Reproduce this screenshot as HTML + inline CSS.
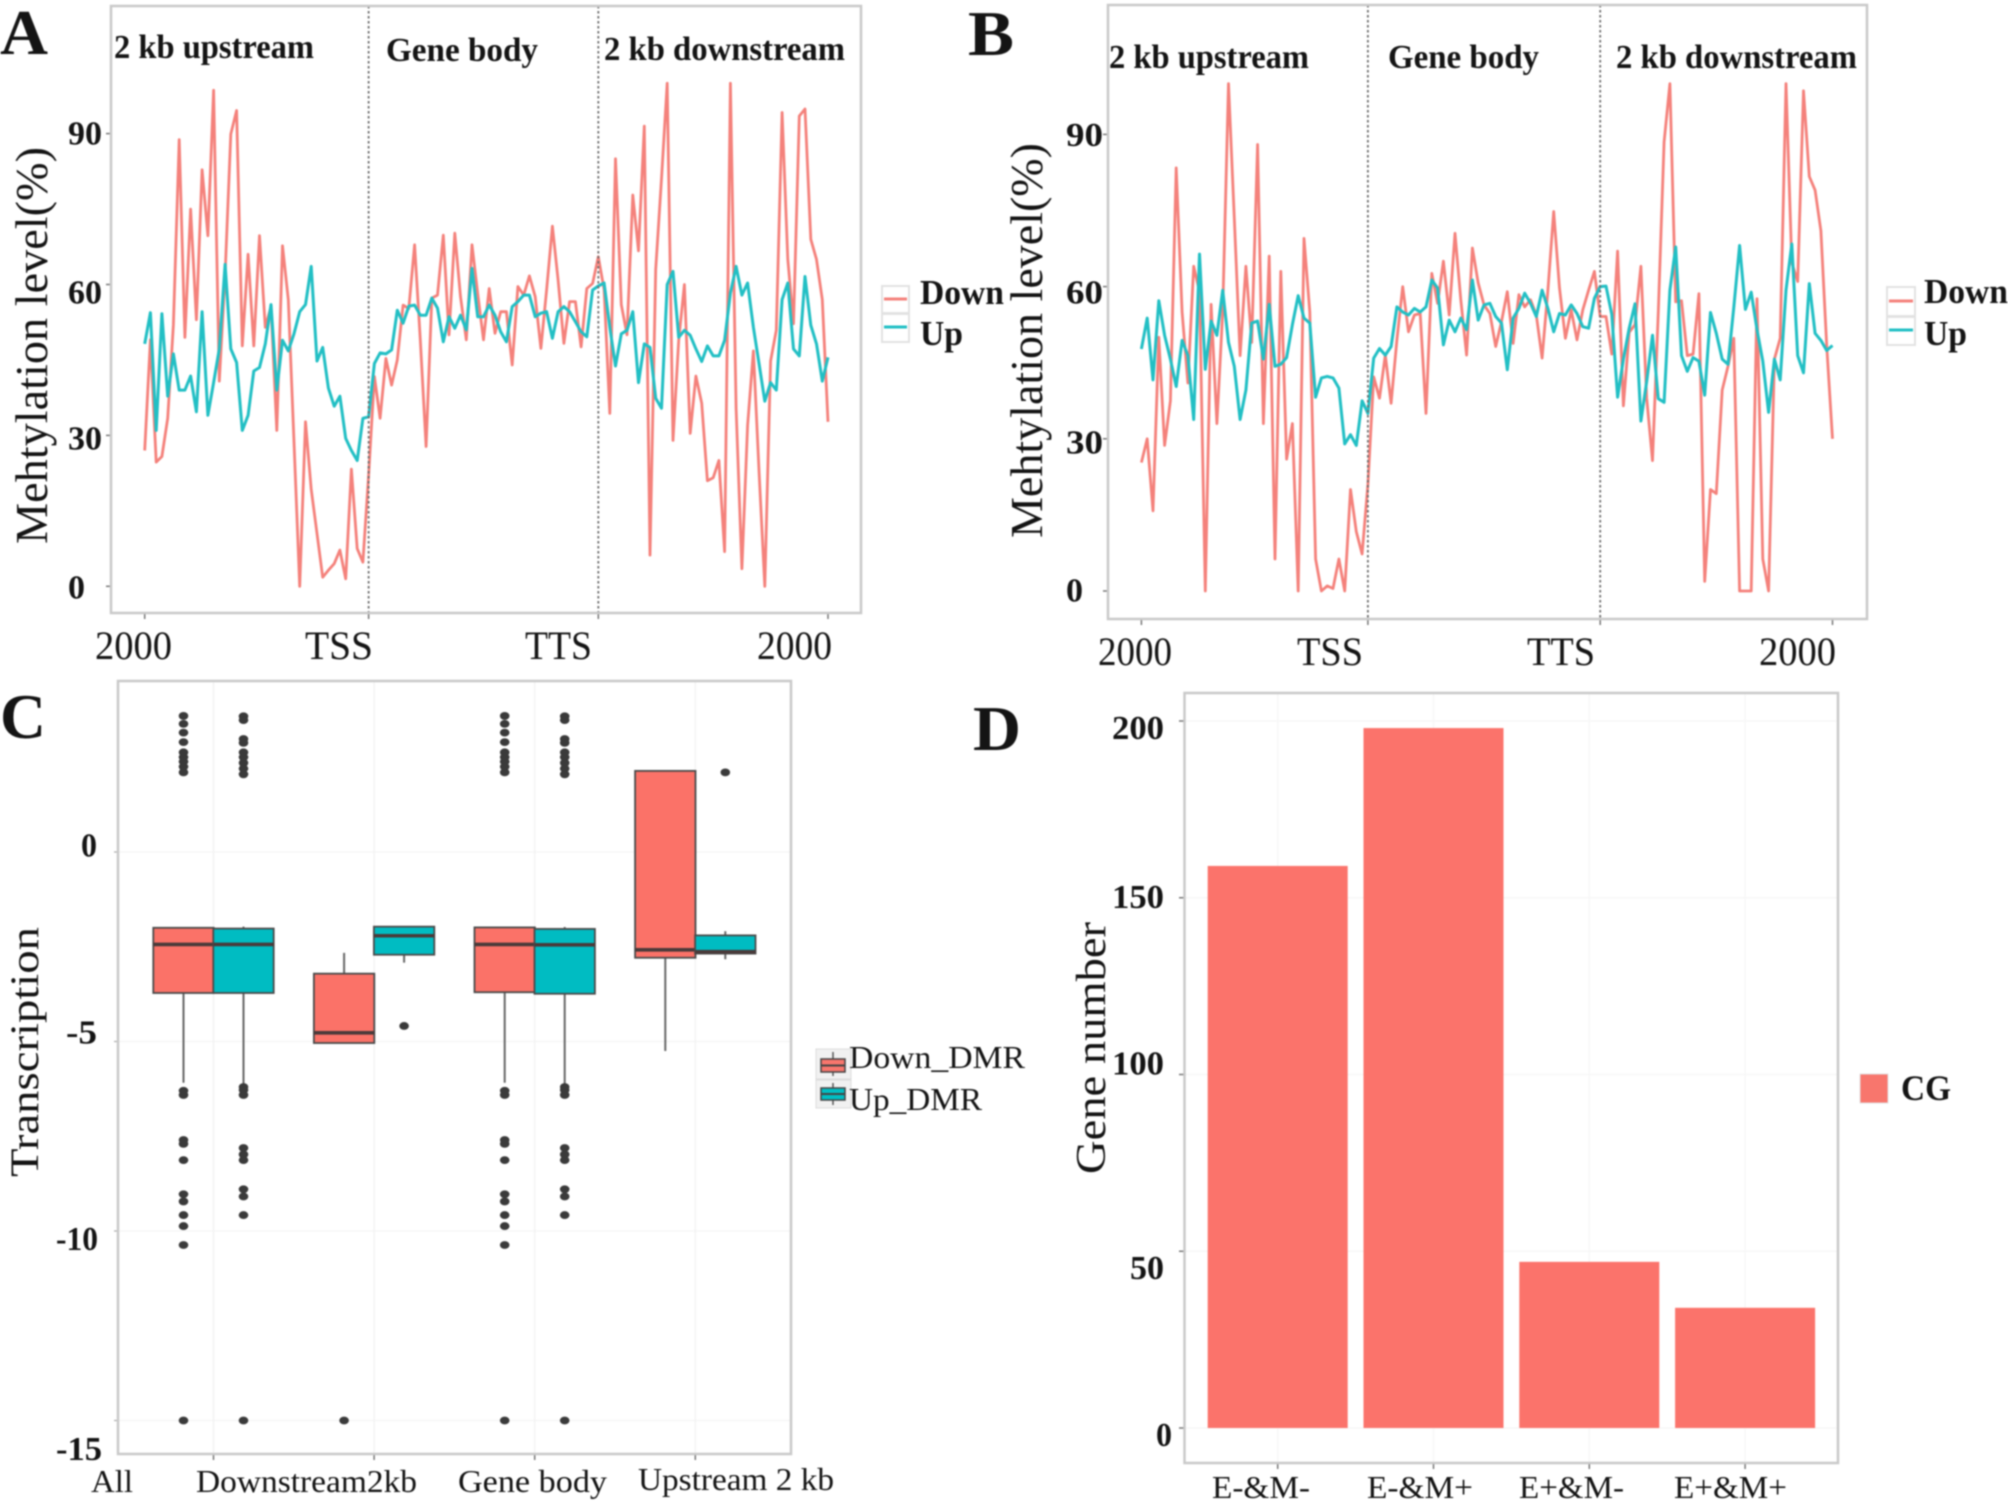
<!DOCTYPE html>
<html lang="en">
<head>
<meta charset="utf-8">
<title>Methylation and transcription panels</title>
<style>
html,body{margin:0;padding:0;background:#fff;}
svg{display:block;filter:blur(0.7px);}
text{font-family:"Liberation Serif",serif;fill:#141414;}
.b{font-weight:700;}
.panel{fill:none;stroke:#c9c9c9;stroke-width:2.5;}
</style>
</head>
<body>
<svg id="chart" xmlns="http://www.w3.org/2000/svg" width="2008" height="1502" viewBox="0 0 2008 1502">
  <rect x="0" y="0" width="2008" height="1502" fill="#fff"/>

  <g id="grid-layer"></g>
  <g id="marks-layer"></g>

  <rect class="panel" x="111" y="6" width="750" height="607"/>
  <rect class="panel" x="1108" y="5" width="759" height="614"/>
  <rect class="panel" x="118" y="681" width="673" height="773"/>
  <rect class="panel" x="1184.5" y="693" width="653.5" height="770"/>

  <text class="b" x="0" y="54" font-size="64" textLength="48" lengthAdjust="spacingAndGlyphs">A</text>
  <text class="b" x="968" y="55" font-size="64" textLength="46" lengthAdjust="spacingAndGlyphs">B</text>
  <text class="b" x="0" y="738" font-size="64" textLength="46" lengthAdjust="spacingAndGlyphs">C</text>
  <text class="b" x="973" y="750" font-size="64" textLength="48" lengthAdjust="spacingAndGlyphs">D</text>

  <!-- Panel A text -->
  <text class="b" x="114" y="58" font-size="34" textLength="200" lengthAdjust="spacingAndGlyphs">2 kb upstream</text>
  <text class="b" x="386" y="61" font-size="34" textLength="152" lengthAdjust="spacingAndGlyphs">Gene body</text>
  <text class="b" x="604" y="60" font-size="34" textLength="241" lengthAdjust="spacingAndGlyphs">2 kb downstream</text>
  <text transform="translate(47,544) rotate(-90)" font-size="46" fill="#222" textLength="397" lengthAdjust="spacingAndGlyphs">Mehtylation level(%)</text>
  <text class="b" x="68" y="144.5" font-size="34" textLength="34" lengthAdjust="spacingAndGlyphs">90</text>
  <text class="b" x="68" y="303.5" font-size="34" textLength="34" lengthAdjust="spacingAndGlyphs">60</text>
  <text class="b" x="68" y="449.5" font-size="34" textLength="34" lengthAdjust="spacingAndGlyphs">30</text>
  <text class="b" x="68" y="598.5" font-size="34" textLength="17" lengthAdjust="spacingAndGlyphs">0</text>
  <text x="95" y="659" font-size="40" textLength="77" lengthAdjust="spacingAndGlyphs">2000</text>
  <text x="305" y="659" font-size="40" textLength="68" lengthAdjust="spacingAndGlyphs">TSS</text>
  <text x="525" y="659" font-size="40" textLength="67" lengthAdjust="spacingAndGlyphs">TTS</text>
  <text x="757" y="659" font-size="40" textLength="75" lengthAdjust="spacingAndGlyphs">2000</text>
  <g>
    <rect x="882" y="286" width="27" height="27" fill="#fff" stroke="#e2e2e2" stroke-width="2"/>
    <line x1="884" x2="907" y1="299" y2="299" stroke="#f4817b" stroke-width="3"/>
    <rect x="882" y="314" width="27" height="28" fill="#fff" stroke="#e2e2e2" stroke-width="2"/>
    <line x1="884" x2="907" y1="327" y2="327" stroke="#22bfc4" stroke-width="3"/>
    <text class="b" x="920" y="304" font-size="35" textLength="84" lengthAdjust="spacingAndGlyphs">Down</text>
    <text class="b" x="920" y="345" font-size="35" textLength="43" lengthAdjust="spacingAndGlyphs">Up</text>
  </g>

  <!-- Panel B text -->
  <text class="b" x="1109" y="68" font-size="34" textLength="200" lengthAdjust="spacingAndGlyphs">2 kb upstream</text>
  <text class="b" x="1388" y="68" font-size="34" textLength="151" lengthAdjust="spacingAndGlyphs">Gene body</text>
  <text class="b" x="1616" y="68" font-size="34" textLength="241" lengthAdjust="spacingAndGlyphs">2 kb downstream</text>
  <text transform="translate(1042,538) rotate(-90)" font-size="46" fill="#222" textLength="395" lengthAdjust="spacingAndGlyphs">Mehtylation level(%)</text>
  <text class="b" x="1066" y="146" font-size="34" textLength="37" lengthAdjust="spacingAndGlyphs">90</text>
  <text class="b" x="1066" y="303.5" font-size="34" textLength="37" lengthAdjust="spacingAndGlyphs">60</text>
  <text class="b" x="1066" y="453.5" font-size="34" textLength="37" lengthAdjust="spacingAndGlyphs">30</text>
  <text class="b" x="1066" y="601.5" font-size="34" textLength="17" lengthAdjust="spacingAndGlyphs">0</text>
  <text x="1098" y="665" font-size="40" textLength="74" lengthAdjust="spacingAndGlyphs">2000</text>
  <text x="1297" y="665" font-size="40" textLength="66" lengthAdjust="spacingAndGlyphs">TSS</text>
  <text x="1527" y="665" font-size="40" textLength="68" lengthAdjust="spacingAndGlyphs">TTS</text>
  <text x="1759" y="665" font-size="40" textLength="77" lengthAdjust="spacingAndGlyphs">2000</text>
  <g>
    <rect x="1887" y="287" width="28" height="29" fill="#fff" stroke="#e2e2e2" stroke-width="2"/>
    <line x1="1889" x2="1913" y1="301" y2="301" stroke="#f4817b" stroke-width="3"/>
    <rect x="1887" y="317" width="28" height="28" fill="#fff" stroke="#e2e2e2" stroke-width="2"/>
    <line x1="1889" x2="1913" y1="330" y2="330" stroke="#22bfc4" stroke-width="3"/>
    <text class="b" x="1924" y="303" font-size="35" textLength="84" lengthAdjust="spacingAndGlyphs">Down</text>
    <text class="b" x="1924" y="345" font-size="35" textLength="43" lengthAdjust="spacingAndGlyphs">Up</text>
  </g>

  <!-- Panel C text -->
  <text transform="translate(38,1177) rotate(-90)" font-size="40" fill="#222" textLength="250" lengthAdjust="spacingAndGlyphs">Transcription</text>
  <text class="b" x="81" y="856.5" font-size="34" textLength="16" lengthAdjust="spacingAndGlyphs">0</text>
  <text class="b" x="66" y="1043.5" font-size="34" textLength="31" lengthAdjust="spacingAndGlyphs">-5</text>
  <text class="b" x="56" y="1250" font-size="34" textLength="42" lengthAdjust="spacingAndGlyphs">-10</text>
  <text class="b" x="56" y="1460" font-size="34" textLength="46" lengthAdjust="spacingAndGlyphs">-15</text>
  <text x="91" y="1492" font-size="32" textLength="42" lengthAdjust="spacingAndGlyphs">All</text>
  <text x="196" y="1492" font-size="32" textLength="221" lengthAdjust="spacingAndGlyphs">Downstream2kb</text>
  <text x="458" y="1492" font-size="32" textLength="149" lengthAdjust="spacingAndGlyphs">Gene body</text>
  <text x="638" y="1490" font-size="32" textLength="196" lengthAdjust="spacingAndGlyphs">Upstream 2 kb</text>
  <g>
    <rect x="816" y="1049" width="35" height="30" fill="#f1f1f1" stroke="#dcdcdc"/>
    <line x1="833" x2="833" y1="1052" y2="1076" stroke="#555" stroke-width="1.5"/>
    <rect x="821" y="1059" width="24" height="13" fill="#f8766d" stroke="#444" stroke-width="1.5"/>
    <line x1="821" x2="845" y1="1065.5" y2="1065.5" stroke="#444" stroke-width="2"/>
    <rect x="816" y="1080" width="35" height="28" fill="#f1f1f1" stroke="#dcdcdc"/>
    <line x1="833" x2="833" y1="1083" y2="1105" stroke="#555" stroke-width="1.5"/>
    <rect x="821" y="1088" width="24" height="12" fill="#00bfc4" stroke="#444" stroke-width="1.5"/>
    <line x1="821" x2="845" y1="1094" y2="1094" stroke="#444" stroke-width="2"/>
    <text x="849" y="1068" font-size="32" fill="#222" textLength="176" lengthAdjust="spacingAndGlyphs">Down_DMR</text>
    <text x="849" y="1110" font-size="32" fill="#222" textLength="133" lengthAdjust="spacingAndGlyphs">Up_DMR</text>
  </g>

  <!-- Panel D text -->
  <text transform="translate(1105,1174) rotate(-90)" font-size="42" fill="#222" textLength="252" lengthAdjust="spacingAndGlyphs">Gene number</text>
  <text class="b" x="1112" y="739" font-size="34" textLength="52" lengthAdjust="spacingAndGlyphs">200</text>
  <text class="b" x="1112" y="908" font-size="34" textLength="52" lengthAdjust="spacingAndGlyphs">150</text>
  <text class="b" x="1112" y="1074.5" font-size="34" textLength="52" lengthAdjust="spacingAndGlyphs">100</text>
  <text class="b" x="1130" y="1279" font-size="34" textLength="34" lengthAdjust="spacingAndGlyphs">50</text>
  <text class="b" x="1156" y="1446" font-size="34" textLength="16" lengthAdjust="spacingAndGlyphs">0</text>
  <text x="1212" y="1498" font-size="32" textLength="98" lengthAdjust="spacingAndGlyphs">E-&amp;M-</text>
  <text x="1367" y="1498" font-size="32" textLength="106" lengthAdjust="spacingAndGlyphs">E-&amp;M+</text>
  <text x="1519" y="1498" font-size="32" textLength="105" lengthAdjust="spacingAndGlyphs">E+&amp;M-</text>
  <text x="1674" y="1498" font-size="32" textLength="113" lengthAdjust="spacingAndGlyphs">E+&amp;M+</text>
  <g>
    <rect x="1860" y="1074" width="28" height="29" fill="#f8766d" stroke="#e2e2e2"/>
    <text class="b" x="1901" y="1100" font-size="36" textLength="50" lengthAdjust="spacingAndGlyphs">CG</text>
  </g>
</svg>

<script>
// Panel A: methylation level (%) per bin
const downA = [27,49,24.7,25.8,33.4,52,88.8,49.5,75,53,
  82.8,69.7,98.6,40.8,62,89.9,94.6,47.8,66,47.8,
  69.7,51.5,55.6,31,67.7,57,28.7,0,32.7,19.3,
  10.5,1.8,3.2,4.5,7.2,1.5,23.3,7.5,4.8,22,
  41.7,33.4,45.3,40,45,55.9,55.2,67.9,49,27.8,
  57.3,57.9,69.8,50,70.2,57.6,49,67.9,58.2,49,
  59.2,50.3,54.6,54.6,44,59.6,57.9,61.7,57.6,47.3,
  58.9,71.6,60.9,48.3,56.6,56.6,47.6,59.2,60.2,65.5,
  59,34.4,85,56,50,77.8,66.7,91.5,6.2,63,
  81,100,29,48.9,60,30.4,41.8,36.4,21,21.6,
  25,6.9,100,35.4,3.5,32,46.8,22.6,0,44.8,
  50.9,94.2,65,52.2,93.5,94.9,69,65,57,32.7];
const upA = [48.2,54.4,31,54.2,37.8,46.2,39,39,41.8,34.7,
  54.6,34,40.5,47.2,64,47.2,44.5,31,34,42.8,
  43.5,48.2,56,39,48.9,46.8,50.2,54.6,56,63.6,
  44.8,47.5,39.4,35.8,37.8,29.4,27,25,33.4,33.7,
  44.3,46.4,46.2,47,54.9,52.3,55.7,55.9,53.9,53.9,
  57.3,55.3,48.6,53.6,51.3,53.9,51,63.2,53.6,53.6,
  55.9,53.9,50.6,48.6,55.6,56.6,57.9,57.9,53.6,54.3,
  54.6,49.3,54.6,55.6,54.6,52.6,50.6,49.6,58.9,59.7,
  60.3,51.5,43.8,50.2,50.9,54.6,40.5,48.2,47.5,37.4,
  35.4,60,62.6,49.5,50.9,49.9,47.2,44.7,47.8,45.8,
  45.8,48.9,58.3,63.6,57.9,60.3,51.5,44.2,36.8,40.5,
  39,57,60.3,47.2,45.8,61.6,51.9,48.2,40.8,45.5];

// Panel B: methylation level (%) per bin
const downB = [25.3,30,15.8,50,28.7,37.5,83.4,55,41,64,
  59,0,56.5,33,55,100,73.5,46.4,64,49,
  88,33,66,6.3,63,26,33,0,69.5,55,
  6.3,0,1,0.5,6.3,0,20,11.7,7.3,21,
  42.2,38,46.5,37,49.5,60,51.1,54.4,54.7,35,
  62.6,56.7,65,54.4,70.5,57.4,46.5,67.6,60.7,56.4,
  54.7,48.2,53.1,59,48.8,58.4,56,57.4,54.4,45.9,
  59.3,74.8,59.7,49.8,55.4,49.5,55.4,59.3,63,54.1,
  54.1,46.7,67,36.5,51,52.5,64,38,25.7,55,
  88.5,100,57,57.2,46.4,46.7,58.6,1.9,20,19.2,
  39.6,44.3,49.8,0,0,0,57.6,6.3,0,45.7,
  49.8,100,64.7,61,98.6,81.7,79,71,48.4,30];
const upB = [47.7,53.8,41.6,57.2,50.4,45.7,40.3,49.4,46.4,33.8,
  66.4,43.7,53.2,50.4,59.3,49,44.3,33.8,39.6,52.8,
  53.2,45.7,56.5,44.3,44.7,46,52.5,58.2,53.8,52.8,
  38.2,42,42.3,42,40,29,30.8,28.7,37.5,35,
  45.9,47.8,46.5,48.2,56,55,54.4,55.7,55,56,
  61.3,59.7,48.5,53.4,51.1,53.8,51.5,61.3,53.4,56.4,
  56.7,54.1,52.8,43.6,53.8,55.7,58.7,56.7,54.1,59.3,
  55.7,51.1,54.7,54.4,56.4,54.7,52.1,51.8,57.7,60,
  60.1,54.5,38.2,45.7,51.8,56.6,33.5,41.3,50.4,37.9,
  37.2,59.3,67.8,46.4,43.3,46,45.3,38.6,54.9,50.8,
  45.7,44.7,55.9,68.1,55.5,58.9,51.5,45.3,35.2,45.7,
  41.6,59.3,68.4,46.4,43,60.6,50.8,49.4,47.4,48.4];

const binTicks = [0,39,79,119];
const methylationTicks = [0,30,60,90];

// Panel C: box statistics per category
const boxCategories = ['All','Downstream2kb','Gene body','Upstream 2 kb'];
const downQ1 = [-3.72,-5.04,-3.7,-2.79];
const downMedian = [-2.44,-4.77,-2.44,-2.58];
const downQ3 = [-2,-3.21,-1.99,2.14];
const downWhiskerLow = [-6.09,-5.04,-6.09,-5.25];
const downWhiskerHigh = [-2,-2.66,-1.99,2.14];
const upQ1 = [-3.72,-2.71,-3.74,-2.68];
const upMedian = [-2.44,-2.21,-2.45,-2.63];
const upQ3 = [-2.02,-1.97,-2.03,-2.2];
const upWhiskerLow = [-6.28,-2.92,-6.28,-2.83];
const upWhiskerHigh = [-1.97,-1.97,-1.98,-2.09];
const downOutliersAll = [3.59,3.38,3.15,2.9,2.63,2.5,2.38,2.25,2.1,-6.3,-6.41,-7.6,-7.7,-8.13,-9.03,-9.22,-9.58,-9.87,-10.37,-15];
const upOutliersAll = [3.58,3.48,2.98,2.88,2.63,2.5,2.35,2.2,2.05,-6.2,-6.28,-6.41,-7.81,-7.98,-8.13,-8.9,-9.09,-9.58,-15];
const downOutliersDownstream = [-15];
const upOutliersDownstream = [-4.59];
const downOutliersGene = [3.59,3.38,3.15,2.9,2.63,2.5,2.38,2.25,2.1,-6.3,-6.41,-7.6,-7.7,-8.13,-9.03,-9.22,-9.58,-9.87,-10.37,-15];
const upOutliersGene = [3.58,3.48,2.98,2.88,2.63,2.5,2.35,2.2,2.05,-6.2,-6.28,-6.41,-7.81,-7.98,-8.13,-8.9,-9.09,-9.58,-15];
const downOutliersUpstream = [];
const upOutliersUpstream = [2.1];
const transcriptionTicks = [0,-5,-10,-15];

// Panel D: gene counts
const barCategories = ['E-&M-','E-&M+','E+&M-','E+&M+'];
const barValues = [159,198,47,34];
const geneTicks = [0,50,100,150,200];

const NS = 'http://www.w3.org/2000/svg';
const gridLayer = document.getElementById('grid-layer');
const marksLayer = document.getElementById('marks-layer');

function make(parent, tag, attrs) {
  const el = document.createElementNS(NS, tag);
  for (const k in attrs) { el.setAttribute(k, attrs[k]); }
  parent.appendChild(el);
  return el;
}
function linear(d0, d1, r0, r1) {
  return function (v) { return r0 + (v - d0) * (r1 - r0) / (d1 - d0); };
}

const redLine = '#f4817b';
const tealLine = '#22bfc4';

function drawLinePanel(key, xScale, yScale, down, up, box) {
  // axis ticks
  methylationTicks.forEach(function (t) {
    const tick = make(marksLayer, 'line', {x1: box.left - 5, x2: box.left, y1: yScale(t), y2: yScale(t), stroke: '#777', 'stroke-width': 1.5});
    
    
  });
  binTicks.forEach(function (t) {
    const tick = make(marksLayer, 'line', {x1: xScale(t), x2: xScale(t), y1: box.bottom, y2: box.bottom + 6, stroke: '#777', 'stroke-width': 1.5});
    
    
  });
  // series
  const downLine = make(marksLayer, 'polyline', {
    points: down.map(function (v, i) { return xScale(i).toFixed(1) + ',' + yScale(v).toFixed(1); }).join(' '),
    fill: 'none', stroke: redLine, 'stroke-width': 2.8, 'stroke-linejoin': 'round'
  });
  
  
  const upLine = make(marksLayer, 'polyline', {
    points: up.map(function (v, i) { return xScale(i).toFixed(1) + ',' + yScale(v).toFixed(1); }).join(' '),
    fill: 'none', stroke: tealLine, 'stroke-width': 3, 'stroke-linejoin': 'round'
  });
  
  
  // region separators
  [binTicks[1], binTicks[2]].forEach(function (t) {
    const sep = make(marksLayer, 'line', {x1: xScale(t), x2: xScale(t), y1: box.top, y2: box.bottom, stroke: '#6f6f6f', 'stroke-width': 1.8, 'stroke-dasharray': '2.5 2.5'});
    
    
  });
}

drawLinePanel('a', linear(0, 119, 144.7, 828), linear(0, 90, 586.3, 133.6), downA, upA, {left: 111, top: 6, bottom: 613});
drawLinePanel('b', linear(0, 119, 1141.4, 1832.5), linear(0, 90, 591, 134.4), downB, upB, {left: 1108, top: 5, bottom: 619});

// Panel C
const yC = linear(0, -15, 852, 1420.5);
const xC = function (i) { return 213.5 + i * 160.6; };
const dodge = 30;
const boxHalf = 30.2;

transcriptionTicks.forEach(function (t) {
  const g = make(gridLayer, 'line', {x1: 118, x2: 791, y1: yC(t), y2: yC(t), stroke: '#f6f6f6', 'stroke-width': 1.5});
  
  
  const m = make(gridLayer, 'line', {x1: 114, x2: 118, y1: yC(t), y2: yC(t), stroke: '#aaa', 'stroke-width': 1.2});
  
  
});
boxCategories.forEach(function (c, i) {
  const g = make(gridLayer, 'line', {x1: xC(i), x2: xC(i), y1: 681, y2: 1454, stroke: '#f3f3f3', 'stroke-width': 1.5});
  
  
  const m = make(gridLayer, 'line', {x1: xC(i), x2: xC(i), y1: 1454, y2: 1460, stroke: '#777', 'stroke-width': 1.5});
  
  
});

function drawBox(cx, q1, med, q3, lo, hi, fill, outliers, label) {
  const whisker = make(marksLayer, 'line', {x1: cx, x2: cx, y1: yC(lo), y2: yC(hi), stroke: '#666', 'stroke-width': 2});
  
  
  const rect = make(marksLayer, 'rect', {x: cx - boxHalf, y: yC(q3), width: boxHalf * 2, height: yC(q1) - yC(q3), fill: fill, stroke: '#4a4a4a', 'stroke-width': 1.8});
  
  
  const median = make(marksLayer, 'line', {x1: cx - boxHalf, x2: cx + boxHalf, y1: yC(med), y2: yC(med), stroke: '#4a3a3a', 'stroke-width': 3.6});
  
  
  outliers.forEach(function (v) {
    const dot = make(marksLayer, 'ellipse', {cx: cx, cy: yC(v), rx: 4.8, ry: 3.9, fill: '#3a3a3a'});
    
    
  });
}
const downOutlierSets = [downOutliersAll, downOutliersDownstream, downOutliersGene, downOutliersUpstream];
const upOutlierSets = [upOutliersAll, upOutliersDownstream, upOutliersGene, upOutliersUpstream];
const boxKeys = ['all', 'downstream', 'gene-body', 'upstream'];
boxCategories.forEach(function (c, i) {
  drawBox(xC(i) - dodge, downQ1[i], downMedian[i], downQ3[i], downWhiskerLow[i], downWhiskerHigh[i], '#fb7268', downOutlierSets[i], 'c-' + boxKeys[i] + '-down');
  drawBox(xC(i) + dodge, upQ1[i], upMedian[i], upQ3[i], upWhiskerLow[i], upWhiskerHigh[i], '#00bcc2', upOutlierSets[i], 'c-' + boxKeys[i] + '-up');
});

// Panel D
const yD = linear(0, 200, 1428, 721);
const xD = function (i) { return 1277.7 + i * 155.8; };
const barWidth = 140;
geneTicks.forEach(function (t) {
  const g = make(gridLayer, 'line', {x1: 1184.5, x2: 1838, y1: yD(t), y2: yD(t), stroke: '#f7f7f7', 'stroke-width': 1.5});
  
  
  const m = make(gridLayer, 'line', {x1: 1179, x2: 1184.5, y1: yD(t), y2: yD(t), stroke: '#777', 'stroke-width': 1.5});
  
  
});
barCategories.forEach(function (c, i) {
  const g = make(gridLayer, 'line', {x1: xD(i), x2: xD(i), y1: 693, y2: 1463, stroke: '#f7f7f7', 'stroke-width': 1.5});
  
  
  const m = make(gridLayer, 'line', {x1: xD(i), x2: xD(i), y1: 1463, y2: 1469, stroke: '#777', 'stroke-width': 1.5});
  
  
  const bar = make(marksLayer, 'rect', {x: xD(i) - barWidth / 2, y: yD(barValues[i]), width: barWidth, height: yD(0) - yD(barValues[i]), fill: '#fb736b'});
  
  
});
</script>
</body>
</html>
